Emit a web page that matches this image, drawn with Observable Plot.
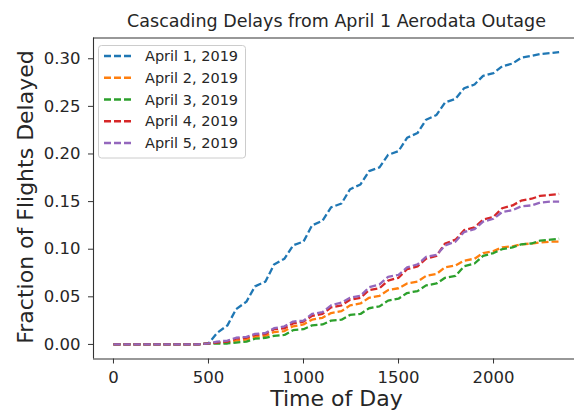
<!DOCTYPE html>
<html>
<head>
<meta charset="utf-8">
<script src="https://cdn.jsdelivr.net/npm/d3@7"></script>
<script src="https://cdn.jsdelivr.net/npm/@observablehq/plot@0.6"></script>
<style>
  html, body { margin: 0; padding: 0; background: #fff; }
  #chart { width: 574px; height: 412px; }
</style>
</head>
<body>
<div id="chart"></div>
<script>
const title = "Cascading Delays from April 1 Aerodata Outage";
const xLabel = "Time of Day";
const yLabel = "Fraction of Flights Delayed";
const seriesNames = ["April 1, 2019", "April 2, 2019", "April 3, 2019", "April 4, 2019", "April 5, 2019"];
const seriesColors = ["#1f77b4", "#ff7f0e", "#2ca02c", "#d62728", "#9467bd"];
const xTicks = [0, 500, 1000, 1500, 2000];
const yTicks = [0, 0.05, 0.10, 0.15, 0.20, 0.25, 0.30];

const times = [0, 45, 100, 145, 200, 245, 300, 345, 400, 445,
  500, 545, 600, 645, 700, 745, 800, 845, 900, 945,
  1000, 1045, 1100, 1145, 1200, 1245, 1300, 1345, 1400, 1445,
  1500, 1545, 1600, 1645, 1700, 1745, 1800, 1845, 1900, 1945,
  2000, 2045, 2100, 2145, 2200, 2245, 2300, 2345];

const april1 = [0, 0, 0, 0, 0, 0, 0, 0, 0, 0,
  .001, .012, .020, .037, .045, .061, .066, .084, .090, .104,
  .108, .125, .130, .144, .148, .163, .168, .182, .186, .199,
  .203, .217, .222, .236, .241, .254, .258, .269, .273, .282,
  .285, .292, .295, .301, .303, .305, .306, .307];
const april2 = [0, 0, 0, 0, 0, 0, 0, 0, 0, 0,
  .001, .002, .002, .004, .005, .008, .009, .013, .014, .019,
  .021, .026, .028, .033, .035, .041, .043, .049, .051, .057,
  .059, .064, .066, .072, .074, .081, .083, .088, .090, .096,
  .098, .102, .103, .105, .106, .107, .108, .108];
const april3 = [0, 0, 0, 0, 0, 0, 0, 0, 0, 0,
  .001, .001, .001, .002, .003, .006, .007, .009, .010, .015,
  .016, .020, .021, .025, .026, .031, .032, .038, .040, .046,
  .048, .054, .056, .062, .064, .070, .072, .082, .085, .093,
  .096, .100, .102, .105, .106, .109, .110, .111];
const april4 = [0, 0, 0, 0, 0, 0, 0, 0, 0, 0,
  .001, .002, .003, .006, .007, .010, .011, .016, .017, .022,
  .024, .030, .032, .039, .041, .047, .049, .057, .059, .067,
  .070, .079, .082, .090, .093, .106, .110, .120, .123, .131,
  .134, .143, .146, .151, .153, .156, .157, .158];
const april5 = [0, 0, 0, 0, 0, 0, 0, 0, 0, 0,
  .001, .003, .004, .007, .008, .011, .012, .017, .019, .024,
  .025, .032, .034, .041, .044, .049, .051, .060, .063, .071,
  .073, .081, .084, .092, .094, .104, .108, .118, .121, .129,
  .132, .139, .141, .145, .146, .149, .150, .150];

const allSeries = [april1, april2, april3, april4, april5];
const rows = allSeries.flatMap((vals, i) =>
  vals.map((v, j) => ({ t: times[j], v, s: seriesNames[i] })));

const W = 574, H = 412;
const mL = 93, mR = 0, mT = 37.5, mB = 53.5;
const xDomain = [-105, 2426];
const yDomain = [-0.0153, 0.3218];
const font = "DejaVu Sans, sans-serif";
const ink = "#262626";

const plot = Plot.plot({
  width: W, height: H,
  marginLeft: mL, marginRight: mR, marginTop: mT, marginBottom: mB,
  style: { fontFamily: font, background: "#fff", color: ink, overflow: "visible" },
  x: { domain: xDomain, label: null },
  y: { domain: yDomain, label: null },
  color: { domain: seriesNames, range: seriesColors },
  marks: [
    Plot.axisX({ ticks: xTicks, tickSize: 5, tickPadding: 7, fontSize: 16.5, label: null, tickFormat: d3.format("d"), stroke: "#333", fill: ink }),
    Plot.axisY({ ticks: yTicks, tickSize: 5, tickPadding: 8, fontSize: 16.5, label: null, tickFormat: d3.format(".2f"), stroke: "#333", fill: ink }),
    ...seriesNames.map(name => Plot.line(rows.filter(d => d.s === name), {
      x: "t", y: "v", stroke: "s", strokeWidth: 2.3, strokeDasharray: "7,3", strokeLinecap: "butt"
    })),
    Plot.ruleX([xDomain[0]], { stroke: "#333", strokeWidth: 1.1 }),
    Plot.ruleY([yDomain[0]], { stroke: "#333", strokeWidth: 1.1 }),
    Plot.ruleY([yDomain[1]], { stroke: "#333", strokeWidth: 1.1 })
  ]
});

document.getElementById("chart").appendChild(plot);
const svg = d3.select(plot);

// Title and axis labels
svg.append("text").attr("x", 336.5).attr("y", 27).attr("text-anchor", "middle")
  .attr("font-family", font).attr("font-size", 17.5).attr("fill", ink).text(title);
svg.append("text").attr("x", 336.5).attr("y", 406).attr("text-anchor", "middle")
  .attr("font-family", font).attr("font-size", 22).attr("fill", ink).text(xLabel);
svg.append("text").attr("transform", "translate(33,197) rotate(-90)").attr("text-anchor", "middle")
  .attr("font-family", font).attr("font-size", 22).attr("fill", ink).text(yLabel);

// Legend
const lg = svg.append("g");
lg.append("rect").attr("x", 98.5).attr("y", 45.5).attr("width", 147).attr("height", 112.5)
  .attr("rx", 3).attr("fill", "#fff").attr("fill-opacity", 0.8).attr("stroke", "#ccc").attr("stroke-width", 1);
seriesNames.forEach((name, i) => {
  const cy = 56 + i * 21.75;
  lg.append("line").attr("x1", 104).attr("x2", 133).attr("y1", cy).attr("y2", cy)
    .attr("stroke", seriesColors[i]).attr("stroke-width", 2.3).attr("stroke-dasharray", "7,3");
  lg.append("text").attr("x", 145).attr("y", cy).attr("dy", "0.36em").attr("text-anchor", "start")
    .attr("font-family", font).attr("font-size", 14.5).attr("fill", ink).text(name);
});
</script>
</body>
</html>
